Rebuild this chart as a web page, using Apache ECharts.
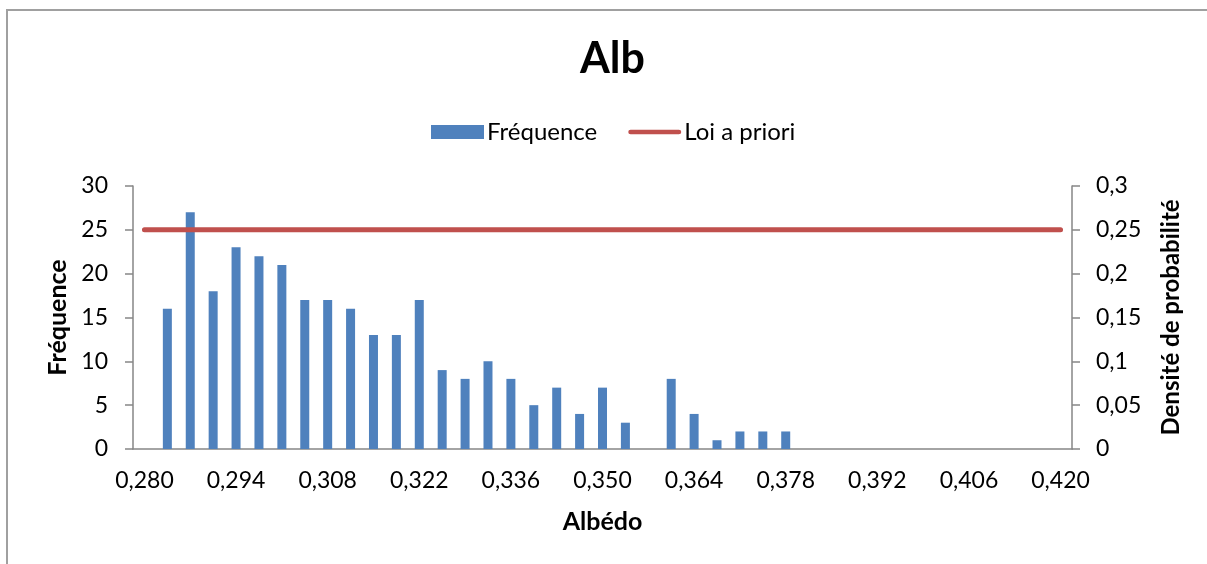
<!DOCTYPE html>
<html>
<head>
<meta charset="utf-8">
<script src="https://cdn.jsdelivr.net/npm/echarts@6/dist/echarts.min.js"></script>
<style>
html,body{margin:0;padding:0;background:#fff;}
#chart{width:1207px;height:564px;}
</style>
</head>
<body>
<div id="chart"></div>
<script>
// Categories (albedo classes)
var categories = [
  0.2800, 0.2835, 0.2870, 0.2905, 0.2940, 0.2975, 0.3010, 0.3045,
  0.3080, 0.3115, 0.3150, 0.3185, 0.3220, 0.3255, 0.3290, 0.3325,
  0.3360, 0.3395, 0.3430, 0.3465, 0.3500, 0.3535, 0.3570, 0.3605,
  0.3640, 0.3675, 0.3710, 0.3745, 0.3780, 0.3815, 0.3850, 0.3885,
  0.3920, 0.3955, 0.3990, 0.4025, 0.4060, 0.4095, 0.4130, 0.4165,
  0.4200
];
// Fréquence (histogram counts)
var frequence = [
  0, 16, 27, 18, 23, 22, 21, 17,
  17, 16, 13, 13, 17, 9, 8, 10,
  8, 5, 7, 4, 7, 3, 0, 8,
  4, 1, 2, 2, 2, 0, 0, 0,
  0, 0, 0, 0, 0, 0, 0, 0,
  0
];
// Loi a priori (uniform prior density)
var loiAPriori = [
  0.25, 0.25, 0.25, 0.25, 0.25, 0.25, 0.25, 0.25,
  0.25, 0.25, 0.25, 0.25, 0.25, 0.25, 0.25, 0.25,
  0.25, 0.25, 0.25, 0.25, 0.25, 0.25, 0.25, 0.25,
  0.25, 0.25, 0.25, 0.25, 0.25, 0.25, 0.25, 0.25,
  0.25, 0.25, 0.25, 0.25, 0.25, 0.25, 0.25, 0.25,
  0.25
];

var FONT = 'Lato';
var axisGrey = '#868686';

var chart = echarts.init(document.getElementById('chart'), null, {renderer: 'canvas'});
chart.setOption({
  backgroundColor: '#ffffff',
  animation: false,
  graphic: [{
    type: 'rect',
    shape: {x: 7, y: 10, width: 1230, height: 600},
    style: {fill: 'none', stroke: '#a0a0a0', lineWidth: 2},
    silent: true
  }],
  title: {
    text: 'Alb',
    left: 575,
    top: 33,
    textStyle: {fontFamily: FONT, fontWeight: 'bold', fontSize: 43, color: '#000'}
  },
  legend: {
    left: 431,
    top: 120,
    padding: 0,
    itemWidth: 53,
    itemHeight: 14,
    itemGap: 31,
    textStyle: {fontFamily: FONT, fontSize: 24, color: '#000', padding: [0, 0, 0, -2]},
    data: [
      {name: 'Fréquence', icon: 'rect'},
      {name: 'Loi a priori',
       icon: 'path://M2.5,0 L53.5,0 A2.5,2.5 0 0 1 53.5,5 L2.5,5 A2.5,2.5 0 0 1 2.5,0 Z',
       itemStyle: {color: '#C0504D'}}
    ]
  },
  grid: {left: 133, right: 135, top: 186, bottom: 115},
  xAxis: {
    type: 'category',
    data: categories,
    boundaryGap: true,
    name: 'Albédo',
    nameLocation: 'middle',
    nameGap: 60,
    nameTextStyle: {fontFamily: FONT, fontWeight: 'bold', fontSize: 25, color: '#000'},
    axisLine: {lineStyle: {color: axisGrey, width: 1.5}},
    axisTick: {interval: 3, length: 8, lineStyle: {color: axisGrey, width: 1.5}},
    axisLabel: {
      interval: 3,
      margin: 20,
      fontFamily: FONT, fontSize: 23, color: '#000',
      formatter: function (v) { return Number(v).toFixed(3).replace('.', ','); }
    }
  },
  yAxis: [{
    type: 'value',
    min: 0, max: 30, interval: 5,
    name: 'Fréquence',
    nameLocation: 'middle',
    nameGap: 61,
    nameTextStyle: {fontFamily: FONT, fontWeight: 'bold', fontSize: 25, color: '#000'},
    axisLine: {show: true, lineStyle: {color: axisGrey, width: 1.5}},
    axisTick: {show: true, length: 8, lineStyle: {color: axisGrey, width: 1.5}},
    splitLine: {show: false},
    axisLabel: {margin: 25, fontFamily: FONT, fontSize: 23, color: '#000'}
  }, {
    type: 'value',
    min: 0, max: 0.3, interval: 0.05,
    position: 'right',
    name: 'Densité de probabilité',
    nameLocation: 'middle',
    nameGap: 87,
    nameTextStyle: {fontFamily: FONT, fontWeight: 'bold', fontSize: 24, color: '#000'},
    axisLine: {show: true, lineStyle: {color: axisGrey, width: 1.5}},
    axisTick: {show: true, length: 8, lineStyle: {color: axisGrey, width: 1.5}},
    splitLine: {show: false},
    axisLabel: {
      margin: 24, fontFamily: FONT, fontSize: 23, color: '#000',
      formatter: function (v) { return String(parseFloat(v.toFixed(2))).replace('.', ','); }
    }
  }],
  series: [{
    name: 'Fréquence',
    type: 'bar',
    yAxisIndex: 0,
    data: frequence,
    barWidth: 9,
    itemStyle: {color: '#4F81BD'}
  }, {
    name: 'Loi a priori',
    type: 'line',
    yAxisIndex: 1,
    data: loiAPriori,
    symbol: 'none',
    lineStyle: {color: '#C0504D', width: 5, cap: 'round'},
    itemStyle: {color: '#C0504D'}
  }]
});
</script>
</body>
</html>
